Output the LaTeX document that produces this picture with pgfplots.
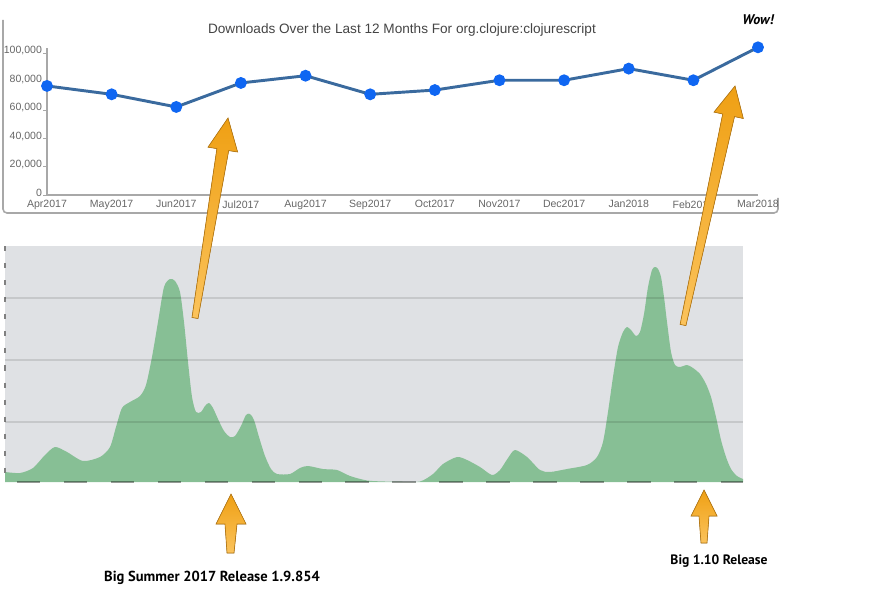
\documentclass[border=0pt]{standalone}
\usepackage{fontspec}
\setmainfont{Liberation Sans}
\newfontfamily\hand{PT Sans}
\usepackage{pgfplots}
\pgfplotsset{compat=1.18}
\definecolor{linecol}{HTML}{3A6A9E}
\definecolor{markcol}{HTML}{0F66F2}
\definecolor{bgcol}{HTML}{DFE1E4}
\definecolor{areacol}{HTML}{87BF95}
\definecolor{arrowtop}{HTML}{EFA014}
\definecolor{arrowbot}{HTML}{FBC35C}
\definecolor{arrowline}{HTML}{B87A14}
\definecolor{ticklab}{HTML}{666666}
\definecolor{titlecol}{HTML}{444444}
\definecolor{framecol}{HTML}{A8A8A8}

\begin{document}
\begin{tikzpicture}[x=0.75pt,y=-0.75pt]
\useasboundingbox (0,0) rectangle (889,595);
% frame of the upper chart
\draw[draw=framecol, line width=1.2pt, rounded corners=3pt] (3,20) -- (3,213) -- (778,213) -- (778,198);
\node[font=\fontsize{10.2pt}{12pt}\selectfont, text=titlecol] at (402,30) {Downloads Over the Last 12 Months For org.clojure:clojurescript};

% upper chart: monthly downloads
\begin{axis}[at={(35.25pt,-146.25pt)}, anchor=south west, scale only axis,
  width=533.25pt, height=110.25pt,
  xmin=0, xmax=11, ymin=0, ymax=103521, clip=false,
  axis x line*=bottom, axis y line*=left,
  axis line style={draw=framecol, line width=1pt},
  xtick={0,...,11},
  xticklabels={Apr2017,May2017,Jun2017,Jul2017,Aug2017,Sep2017,Oct2017,Nov2017,Dec2017,Jan2018,Feb2018,Mar2018},
  ytick={0,20000,40000,60000,80000,100000},
  major tick length=3pt, xtick style={draw=none}, ytick style={draw=framecol},
  tick align=outside,
  tick label style={font=\fontsize{7.9pt}{9pt}\selectfont, text=ticklab},
  xticklabel style={yshift=2.5pt},
  yticklabel style={inner xsep=0.6pt, yshift=1.6pt},
  scaled y ticks=false,
  /pgf/number format/fixed,
  /pgf/number format/1000 sep={,},
  /pgf/number format/assume math mode=true]
\addplot[color=linecol, line width=2.2pt, mark=*, mark size=3.3pt,
  mark options={draw=markcol, fill=markcol}] coordinates {
  (0,76800) (1,70900) (2,62000) (3,78900) (4,84000) (5,70900)
  (6,73900) (7,80800) (8,80800) (9,89000) (10,80800) (11,104000)};
\end{axis}

% lower chart: daily downloads (relative, no scale shown)
\begin{axis}[at={(3.75pt,-361.5pt)}, anchor=south west, scale only axis,
  width=553.5pt, height=177pt,
  xmin=5, xmax=743, ymin=0, ymax=236, clip=false,
  axis line style={draw=none}, xtick=\empty, ytick={60,122,184}, yticklabels={},
  major tick length=0pt, ymajorgrids, axis on top,
  grid style={draw=black, opacity=0.11, line width=1.5pt},
  axis background/.style={fill=bgcol}]
\addplot[fill=areacol, draw=none, smooth, tension=0.45] coordinates {
 (5,10) (20,9) (33,14) (45,27) (55,35) (67,30) (83,21) (100,25) (110,35)
 (116,55) (122,74) (130,80) (140,86) (146,97) (152,125) (158,160) (164,195)
 (170,203) (175,201) (180,190) (184,160) (188,120) (192,85) (196,70) (201,70)
 (205,76) (209,79) (213,74) (218,63) (224,51) (230,45) (235,46) (241,56)
 (246,67) (250,68) (254,62) (259,45) (265,26) (271,13) (277,8) (290,8)
 (300,14) (308,16) (323,13) (337,12) (350,6) (367,1.5) (385,0.5) (400,0.3)
 (420,0.5) (433,8) (443,18) (457,25) (467,22) (480,15) (492,7) (500,12)
 (508,24) (515,32) (527,25) (540,12) (550,10) (567,13) (587,17) (597,25)
 (603,40) (608,70) (613,105) (618,135) (623,150) (627,155) (631,152) (636,146)
 (640,150) (644,168) (648,195) (652,212) (655,215) (658,213) (661,205) (664,185)
 (667,160) (671,130) (675,117) (680,115) (687,117) (693,114) (700,108) (706,98)
 (711,85) (716,65) (721,42) (726,25) (731,13) (737,6) (743,3)} \closedcycle;
\draw[draw=black, opacity=0.38, line width=1.5pt, dash pattern=on 17.6pt off 17.6pt, dash phase=26.25pt]
  (axis cs:5,0) -- (axis cs:743,0);
\draw[draw=gray, line width=1.9pt, dash pattern=on 3.8pt off 9pt]
  (axis cs:5,236) -- (axis cs:5,0);
\end{axis}

% annotation arrows
\filldraw[draw=arrowline, line width=0.5pt, top color=arrowtop, bottom color=arrowbot]
  (192,317.5) -- (216.9,148.6) -- (208,147.2) -- (228,118) -- (237.6,152) -- (228.7,150.6) -- (198,318.5) -- cycle;
\filldraw[draw=arrowline, line width=0.5pt, top color=arrowtop, bottom color=arrowbot]
  (680.1,324.4) -- (722.7,114) -- (714,112.1) -- (735,86) -- (743.3,118.5) -- (734.5,116.6) -- (685.9,325.6) -- cycle;
\filldraw[draw=arrowline, line width=0.5pt, top color=arrowtop, bottom color=arrowbot]
  (231,494) -- (246,524) -- (237,524) -- (234,553) -- (227,553) -- (225,524) -- (216,524) -- cycle;
\filldraw[draw=arrowline, line width=0.5pt, top color=arrowtop, bottom color=arrowbot]
  (704,490) -- (717,516) -- (709,516) -- (707,543) -- (701,543) -- (699,516) -- (691,516) -- cycle;

% annotation texts
\node[font=\hand\bfseries\fontsize{10.9pt}{12pt}\selectfont] at (212,578) {Big Summer 2017 Release 1.9.854};
\node[font=\hand\bfseries\fontsize{10.2pt}{12pt}\selectfont] at (719,561) {Big 1.10 Release};
\node[font=\hand\bfseries\itshape\fontsize{10.5pt}{12pt}\selectfont] at (758,20) {Wow!};
\end{tikzpicture}
\end{document}
